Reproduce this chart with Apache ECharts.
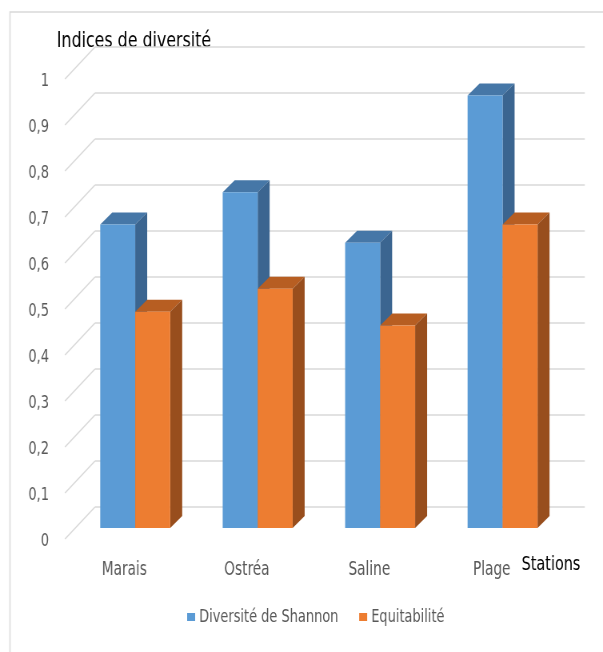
<!DOCTYPE html>
<html>
<head>
<meta charset="utf-8">
<title>Indices de diversité</title>
<script src="https://cdn.jsdelivr.net/npm/echarts@6/dist/echarts.min.js"></script>
<style>
  html, body { margin: 0; padding: 0; background: #fff; overflow: hidden; width: 603px; height: 652px; }
  /* the chart is laid out wide and compressed horizontally for a condensed look */
  #chart { width: 754px; height: 652px; transform: scaleX(0.7997); transform-origin: 0 0; }
</style>
</head>
<body>
<div id="chart"></div>
<script>
// Stations and diversity indices
const categories = ['Marais', 'Ostréa', 'Saline', 'Plage'];
const shannon = [0.66, 0.73, 0.62, 0.94];
const equitabilite = [0.47, 0.52, 0.44, 0.66];
const seriesNames = ['Diversité de Shannon', 'Equitabilité'];
const yTicks = [0, 0.1, 0.2, 0.3, 0.4, 0.5, 0.6, 0.7, 0.8, 0.9, 1];
const yTickLabels = ['0', '0,1', '0,2', '0,3', '0,4', '0,5', '0,6', '0,7', '0,8', '0,9', '1'];

const FONT = '"DejaVu Sans Condensed", "DejaVu Sans", sans-serif';

// Oblique projection (layout units): bars sit between the front edge and the back wall
const BACK = [26.25, -21];   // back wall offset from the bar plane
const FRONT = [-11.25, 11];  // front edge offset from the bar plane
const DEPTH = [15, -12];     // bar depth
const BAR_FRAC = 35 / 122.5;

const palette = {
  blue:   { front: '#5B9BD5', top: '#4677A7', side: '#3B6590' },
  orange: { front: '#ED7D31', top: '#B75E22', side: '#984E1D' }
};

function barRenderer(col, side) {
  return function (params, api) {
    const i = api.value(0);
    const v = api.value(1);
    const base = api.coord([i, 0]);
    const top = api.coord([i, v]);
    const band = api.size([1, 0])[0];
    const w = band * BAR_FRAC;
    const x0 = side === 0 ? base[0] - w : base[0];
    const x1 = x0 + w;
    const y0 = base[1];
    const y1 = top[1];
    const dx = DEPTH[0], dy = DEPTH[1];
    return {
      type: 'group',
      children: [
        { type: 'polygon', shape: { points: [[x0, y1], [x1, y1], [x1 + dx, y1 + dy], [x0 + dx, y1 + dy]] },
          style: { fill: col.top } },
        { type: 'polygon', shape: { points: [[x1, y0], [x1 + dx, y0 + dy], [x1 + dx, y1 + dy], [x1, y1]] },
          style: { fill: col.side } },
        { type: 'rect', shape: { x: x0, y: y1, width: w, height: y0 - y1 },
          style: { fill: col.front } }
      ]
    };
  };
}

// Side-wall diagonals, back-wall gridlines and value labels
function gridRenderer(params, api) {
  const v = api.value(0);
  const idx = params.dataIndex;
  const cs = params.coordSys;
  const y = api.coord([0, v])[1];
  const left = cs.x;
  const right = cs.x + cs.width;
  const fx = left + FRONT[0], fy = y + FRONT[1];
  const bx = left + BACK[0], by = y + BACK[1];
  return {
    type: 'group',
    children: [
      { type: 'line', shape: { x1: fx, y1: fy, x2: bx, y2: by },
        style: { stroke: '#D9D9D9', lineWidth: 1.5 } },
      { type: 'line', shape: { x1: bx, y1: by, x2: right + BACK[0], y2: by },
        style: { stroke: '#D9D9D9', lineWidth: 1.5 } },
      { type: 'text', x: fx - 20, y: fy + 2,
        style: { text: yTickLabels[idx], fill: '#595959', font: '18px ' + FONT,
                 align: 'right', verticalAlign: 'middle' } }
    ]
  };
}

const chart = echarts.init(document.getElementById('chart'));

chart.setOption({
  animation: false,
  backgroundColor: '#fff',
  grid: { left: 92.5, right: 49, top: 68, bottom: 124 },
  xAxis: {
    type: 'category',
    data: categories,
    axisLine: { show: false },
    axisTick: { show: false },
    splitLine: { show: false },
    axisLabel: {
      color: '#595959', fontSize: 19, fontFamily: FONT,
      margin: 33, padding: [0, 27, 0, 0]
    }
  },
  yAxis: {
    type: 'value',
    min: 0, max: 1, interval: 0.1,
    axisLine: { show: false },
    axisTick: { show: false },
    splitLine: { show: false },
    axisLabel: { show: false }
  },
  legend: {
    data: seriesNames,
    left: 229, top: 603,
    icon: 'rect', itemWidth: 10, itemHeight: 8, itemGap: 26,
    selectedMode: false,
    textStyle: { color: '#595959', fontSize: 18, fontFamily: FONT }
  },
  graphic: [
    { type: 'rect', shape: { x: 12.5, y: 12, width: 1000, height: 800 },
      style: { fill: 'none', stroke: '#D9D9D9', lineWidth: 1.5 }, silent: true },
    { type: 'text', x: 71, y: 41,
      style: { text: 'Indices de diversité', fill: '#000', font: '22px ' + FONT,
               align: 'left', verticalAlign: 'middle' } },
    { type: 'text', x: 689, y: 565,
      style: { text: 'Stations', fill: '#000', font: '20px ' + FONT,
               align: 'center', verticalAlign: 'middle' } }
  ],
  series: [
    {
      type: 'custom',
      name: 'grid',
      silent: true,
      z: 1,
      renderItem: gridRenderer,
      data: yTicks.map(v => [v]),
      encode: { y: 0 }
    },
    {
      type: 'custom',
      name: seriesNames[0],
      z: 2,
      itemStyle: { color: palette.blue.front },
      renderItem: barRenderer(palette.blue, 0),
      data: shannon.map((v, i) => [i, v]),
      encode: { x: 0, y: 1 }
    },
    {
      type: 'custom',
      name: seriesNames[1],
      z: 3,
      itemStyle: { color: palette.orange.front },
      renderItem: barRenderer(palette.orange, 1),
      data: equitabilite.map((v, i) => [i, v]),
      encode: { x: 0, y: 1 }
    }
  ]
});
</script>
</body>
</html>
